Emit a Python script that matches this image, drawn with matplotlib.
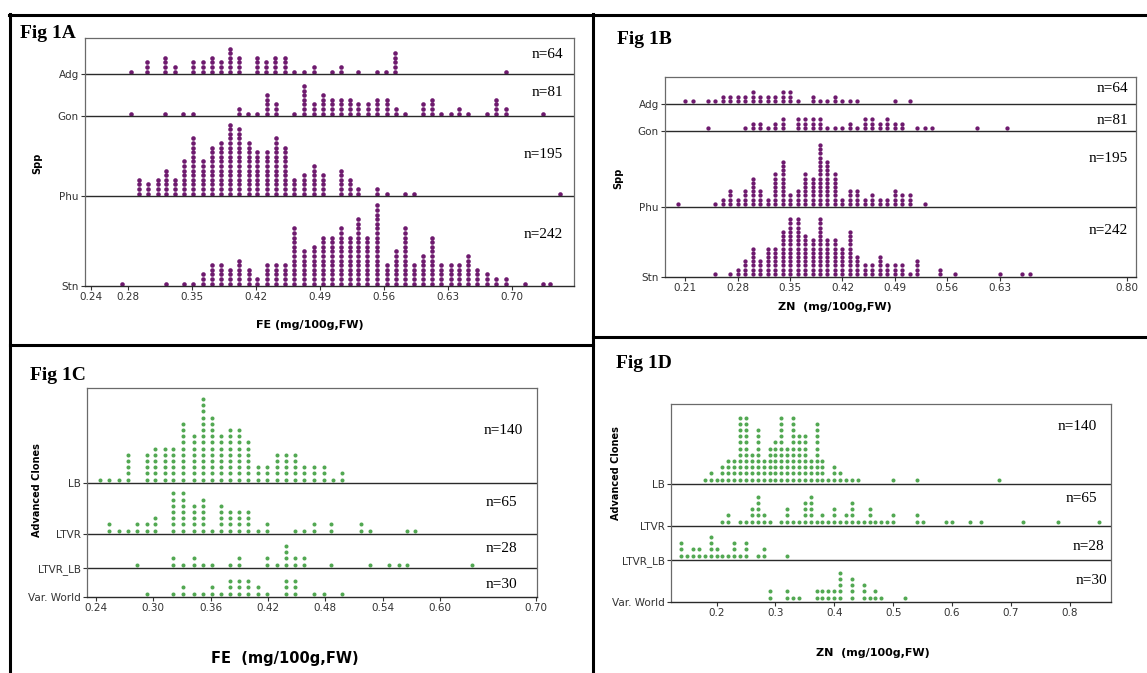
import numpy as np
import matplotlib.pyplot as plt

# ---- data: dot columns (bin position, number of dots) ----
# Fig 1A  FE by species
adg_fe_x = [0.283, 0.301, 0.320, 0.331, 0.351, 0.362, 0.372, 0.382, 0.392, 0.402, 0.421, 0.431,
            0.441, 0.452, 0.462, 0.473, 0.483, 0.503, 0.513, 0.532, 0.552, 0.562, 0.572, 0.694]
adg_fe_n = [1, 3, 4, 2, 3, 3, 4, 3, 6, 4, 4, 3, 4, 4, 1, 1, 2, 1, 2, 1, 1, 1, 5, 1]
gon_fe_x = [0.283, 0.320, 0.340, 0.351, 0.402, 0.411, 0.421, 0.432, 0.442, 0.462, 0.473, 0.483,
            0.493, 0.503, 0.513, 0.523, 0.532, 0.543, 0.552, 0.563, 0.573, 0.583, 0.603, 0.613,
            0.623, 0.633, 0.642, 0.652, 0.673, 0.683, 0.694, 0.734]
gon_fe_n = [1, 1, 1, 1, 2, 1, 1, 5, 3, 1, 7, 3, 5, 4, 4, 4, 3, 3, 4, 4, 2, 1, 3, 4, 1, 1, 2, 1, 1, 4, 2, 1]
phu_fe_x = [0.292, 0.302, 0.313, 0.322, 0.331, 0.341, 0.351, 0.362, 0.372, 0.382, 0.392, 0.402,
            0.412, 0.421, 0.432, 0.442, 0.452, 0.462, 0.473, 0.483, 0.493, 0.513, 0.523, 0.532,
            0.552, 0.563, 0.583, 0.593, 0.753]
phu_fe_n = [4, 3, 4, 6, 4, 8, 13, 8, 11, 12, 16, 15, 12, 10, 10, 13, 11, 4, 5, 7, 5, 6, 4, 2, 2, 1, 1, 1, 1]
stn_fe_x = [0.273, 0.322, 0.341, 0.351, 0.362, 0.372, 0.382, 0.392, 0.402, 0.412, 0.421, 0.432,
            0.442, 0.452, 0.462, 0.473, 0.483, 0.493, 0.503, 0.513, 0.523, 0.532, 0.542, 0.552,
            0.563, 0.573, 0.583, 0.593, 0.603, 0.613, 0.623, 0.633, 0.642, 0.652, 0.662, 0.673,
            0.683, 0.694, 0.714, 0.734, 0.742]
stn_fe_n = [1, 1, 1, 1, 3, 5, 5, 4, 6, 4, 2, 5, 5, 5, 13, 8, 9, 11, 11, 13, 11, 15, 11, 18, 5, 8,
            13, 5, 7, 11, 5, 5, 5, 7, 4, 3, 2, 2, 1, 1, 1]

# Fig 1B  ZN by species
adg_zn_x = [0.21, 0.22, 0.24, 0.25, 0.26, 0.27, 0.28, 0.29, 0.30, 0.31, 0.32, 0.33, 0.34, 0.35,
            0.36, 0.38, 0.39, 0.40, 0.41, 0.42, 0.43, 0.44, 0.49, 0.51]
adg_zn_n = [1, 1, 1, 1, 2, 2, 2, 2, 3, 2, 2, 2, 3, 3, 1, 2, 1, 1, 2, 1, 1, 1, 1, 1]
gon_zn_x = [0.24, 0.29, 0.30, 0.31, 0.32, 0.33, 0.34, 0.36, 0.37, 0.38, 0.39, 0.40, 0.41, 0.42,
            0.43, 0.44, 0.45, 0.46, 0.47, 0.48, 0.49, 0.50, 0.52, 0.53, 0.54, 0.60, 0.64]
gon_zn_n = [1, 1, 2, 2, 1, 2, 3, 3, 3, 3, 3, 1, 1, 1, 2, 1, 3, 3, 2, 3, 2, 2, 1, 1, 1, 1, 1]
phu_zn_x = [0.20, 0.25, 0.26, 0.27, 0.28, 0.29, 0.30, 0.31, 0.32, 0.33, 0.34, 0.35, 0.36, 0.37,
            0.38, 0.39, 0.40, 0.41, 0.42, 0.43, 0.44, 0.45, 0.46, 0.47, 0.48, 0.49, 0.50, 0.51, 0.53]
phu_zn_n = [1, 1, 2, 4, 2, 4, 7, 4, 2, 8, 11, 3, 4, 8, 7, 15, 11, 8, 2, 4, 4, 2, 3, 2, 2, 4, 3, 3, 1]
stn_zn_x = [0.25, 0.27, 0.28, 0.29, 0.30, 0.31, 0.32, 0.33, 0.34, 0.35, 0.36, 0.37, 0.38, 0.39,
            0.40, 0.41, 0.42, 0.43, 0.44, 0.45, 0.46, 0.47, 0.48, 0.49, 0.50, 0.51, 0.52, 0.55,
            0.57, 0.63, 0.66, 0.67]
stn_zn_n = [1, 1, 2, 4, 7, 4, 7, 7, 11, 14, 14, 10, 9, 14, 9, 9, 7, 11, 5, 3, 3, 5, 3, 3, 3, 1,
            4, 2, 1, 1, 1, 1]

# Fig 1C  FE by clone group
lb_fe_x = [0.244, 0.254, 0.264, 0.273, 0.293, 0.302, 0.312, 0.321, 0.331, 0.342, 0.352, 0.361,
           0.371, 0.380, 0.390, 0.399, 0.409, 0.419, 0.429, 0.439, 0.448, 0.458, 0.468, 0.478,
           0.488, 0.497]
lb_fe_n = [1, 1, 1, 5, 5, 6, 6, 6, 10, 8, 14, 11, 8, 9, 9, 7, 3, 3, 5, 5, 5, 3, 3, 3, 1, 2]
ltvr_fe_x = [0.254, 0.264, 0.273, 0.283, 0.293, 0.302, 0.321, 0.331, 0.342, 0.352, 0.361, 0.371,
             0.380, 0.390, 0.399, 0.409, 0.419, 0.448, 0.458, 0.468, 0.486, 0.517, 0.527, 0.565,
             0.574]
ltvr_fe_n = [2, 1, 1, 2, 2, 3, 7, 7, 5, 6, 1, 5, 4, 4, 4, 1, 2, 1, 1, 2, 2, 2, 1, 1, 1]
ltvrlb_fe_x = [0.283, 0.321, 0.331, 0.342, 0.352, 0.361, 0.380, 0.390, 0.419, 0.429, 0.439, 0.448,
               0.458, 0.486, 0.527, 0.547, 0.557, 0.565, 0.633]
ltvrlb_fe_n = [1, 2, 1, 2, 1, 1, 1, 2, 2, 1, 4, 2, 2, 1, 1, 1, 1, 1, 1]
vw_fe_x = [0.293, 0.321, 0.331, 0.342, 0.352, 0.361, 0.371, 0.380, 0.390, 0.399, 0.409, 0.419,
           0.439, 0.448, 0.468, 0.478, 0.497]
vw_fe_n = [1, 1, 2, 1, 1, 2, 1, 3, 3, 3, 2, 1, 3, 3, 1, 1, 1]

# Fig 1D  ZN by clone group
lb_zn_x = [0.18, 0.19, 0.20, 0.21, 0.22, 0.23, 0.24, 0.25, 0.26, 0.27, 0.28, 0.29, 0.30, 0.31,
           0.32, 0.33, 0.34, 0.35, 0.36, 0.37, 0.38, 0.39, 0.40, 0.41, 0.42, 0.43, 0.44, 0.50,
           0.54, 0.68]
lb_zn_n = [1, 2, 1, 3, 4, 4, 11, 11, 5, 9, 4, 6, 7, 11, 6, 11, 8, 8, 4, 10, 4, 1, 3, 2, 1, 1, 1,
           1, 1, 1]
ltvr_zn_x = [0.21, 0.22, 0.24, 0.25, 0.26, 0.27, 0.28, 0.29, 0.31, 0.32, 0.33, 0.34, 0.35, 0.36,
             0.37, 0.38, 0.39, 0.40, 0.41, 0.42, 0.43, 0.44, 0.45, 0.46, 0.47, 0.48, 0.49, 0.50,
             0.54, 0.55, 0.59, 0.60, 0.63, 0.65, 0.72, 0.78, 0.85]
ltvr_zn_n = [1, 2, 1, 1, 3, 5, 2, 1, 1, 3, 1, 1, 4, 5, 1, 2, 1, 3, 1, 2, 4, 1, 1, 3, 1, 1, 1, 2,
             2, 1, 1, 1, 1, 1, 1, 1, 1]
ltvrlb_zn_x = [0.14, 0.15, 0.16, 0.17, 0.18, 0.19, 0.20, 0.21, 0.22, 0.23, 0.24, 0.25, 0.27,
               0.28, 0.32]
ltvrlb_zn_n = [3, 1, 2, 2, 1, 4, 2, 1, 1, 3, 1, 3, 1, 2, 1]
vw_zn_x = [0.29, 0.32, 0.33, 0.34, 0.37, 0.38, 0.39, 0.40, 0.41, 0.43, 0.45, 0.46, 0.47, 0.48, 0.52]
vw_zn_n = [2, 2, 1, 1, 2, 2, 2, 2, 5, 4, 3, 1, 2, 1, 1]

species = ['Adg', 'Gon', 'Phu', 'Stn']
species_n = ['n=64', 'n=81', 'n=195', 'n=242']
clones = ['LB', 'LTVR', 'LTVR_LB', 'Var. World']
clones_n = ['n=140', 'n=65', 'n=28', 'n=30']

ticks_a = [0.24, 0.28, 0.35, 0.42, 0.49, 0.56, 0.63, 0.70]
ticks_b = [0.21, 0.28, 0.35, 0.42, 0.49, 0.56, 0.63, 0.80]
ticks_c = [0.24, 0.30, 0.36, 0.42, 0.48, 0.54, 0.60, 0.70]
ticks_d = [0.2, 0.3, 0.4, 0.5, 0.6, 0.7, 0.8]

PURPLE = '#6e1a6e'
GREEN = '#52a852'

W, H = 1147, 673
fig = plt.figure(figsize=(W / 100, H / 100), dpi=100)


def fx(x):
    return x / W


def fy(y):
    return 1 - y / H


def dot_panel(box, xlim, ticks, names, bases, groups, color, pitch, first, ms, tickfmt):
    l, t, r, b = box
    ax = fig.add_axes([fx(l), fy(b), (r - l) / W, (b - t) / H])
    ax.set_xlim(*xlim)
    ax.set_ylim(0, b - t)
    ys_base = [b - p for p in bases]
    for (xs, ns), yb in zip(groups, ys_base):
        for x, n in zip(xs, ns):
            ys = yb + first + pitch * np.arange(n)
            ax.plot([x] * n, ys, 'o', color=color, ms=ms, mew=0)
    for yb in ys_base[:-1]:
        ax.axhline(yb, color='#2a2a2a', lw=1.0)
    for s in ['top', 'left', 'right']:
        ax.spines[s].set_color('#6a6a6a')
        ax.spines[s].set_linewidth(0.9)
    ax.spines['bottom'].set_color('#2a2a2a')
    ax.spines['bottom'].set_linewidth(1.0)
    ax.set_xticks(ticks)
    ax.set_xticklabels([tickfmt % v for v in ticks])
    ax.set_yticks(ys_base)
    ax.set_yticklabels(names)
    ax.tick_params(axis='both', direction='out', length=3, width=0.8,
                   color='#333333', labelcolor='#333333', labelsize=7.5, pad=1.5)
    return ax


def panel_text(x, y, s, **kw):
    fig.text(fx(x), fy(y), s, **kw)


# panel A
dot_panel((85, 38, 574, 286), (0.233, 0.768), ticks_a, species,
          [74, 116, 196, 286],
          [(adg_fe_x, adg_fe_n), (gon_fe_x, gon_fe_n), (phu_fe_x, phu_fe_n), (stn_fe_x, stn_fe_n)],
          PURPLE, 4.6, 2.4, 3.3, '%.2f')
# panel B
dot_panel((665, 77, 1136, 277), (0.183, 0.812), ticks_b, species,
          [104, 131, 207, 277],
          [(adg_zn_x, adg_zn_n), (gon_zn_x, gon_zn_n), (phu_zn_x, phu_zn_n), (stn_zn_x, stn_zn_n)],
          PURPLE, 4.2, 3.3, 3.1, '%.2f')
# panel C
dot_panel((87, 388, 537, 597), (0.2306, 0.7013), ticks_c, clones,
          [483, 534, 568, 597],
          [(lb_fe_x, lb_fe_n), (ltvr_fe_x, ltvr_fe_n), (ltvrlb_fe_x, ltvrlb_fe_n), (vw_fe_x, vw_fe_n)],
          GREEN, 6.2, 3.5, 2.9, '%.2f')
# panel D
dot_panel((671, 404, 1111, 602), (0.1227, 0.870), ticks_d, clones,
          [484, 526, 560, 602],
          [(lb_zn_x, lb_zn_n), (ltvr_zn_x, ltvr_zn_n), (ltvrlb_zn_x, ltvrlb_zn_n), (vw_zn_x, vw_zn_n)],
          GREEN, 6.2, 4.5, 2.9, '%.1f')

serif = 'Liberation Serif'
# panel titles
for x, y, s in [(20, 33, 'Fig 1A'), (617, 40, 'Fig 1B'), (30, 375, 'Fig 1C'), (616, 363, 'Fig 1D')]:
    panel_text(x, y, s, family=serif, weight='bold', fontsize=14, va='center', ha='left')

# n= labels
for lab, y in zip(species_n, [55, 93, 155, 235]):
    panel_text(563, y, lab, family=serif, fontsize=11, ha='right', va='center')
for lab, y in zip(species_n, [88, 120, 158, 230]):
    panel_text(1128, y, lab, family=serif, fontsize=11, ha='right', va='center')
for lab, y, x in zip(clones_n, [430, 503, 549, 584], [523, 517, 517, 517]):
    panel_text(x, y, lab, family=serif, fontsize=11, ha='right', va='center')
for lab, y, x in zip(clones_n, [427, 498, 547, 580], [1097, 1097, 1104, 1107]):
    panel_text(x, y, lab, family=serif, fontsize=11, ha='right', va='center')

# axis titles
panel_text(310, 325, 'FE (mg/100g,FW)', weight='bold', fontsize=8, ha='center', va='center')
panel_text(835, 307, 'ZN  (mg/100g,FW)', weight='bold', fontsize=8, ha='center', va='center')
panel_text(285, 658, 'FE  (mg/100g,FW)', weight='bold', fontsize=10.5, ha='center', va='center')
panel_text(873, 653, 'ZN  (mg/100g,FW)', weight='bold', fontsize=8, ha='center', va='center')
panel_text(37, 163, 'Spp', weight='bold', fontsize=7, rotation=90, ha='center', va='center')
panel_text(618, 178, 'Spp', weight='bold', fontsize=7, rotation=90, ha='center', va='center')
panel_text(37, 490, 'Advanced Clones', weight='bold', fontsize=7, rotation=90, ha='center', va='center')
panel_text(616, 473, 'Advanced Clones', weight='bold', fontsize=7, rotation=90, ha='center', va='center')

# thick panel borders
bw = 2.2
for (x0, y0, x1, y1) in [(9, 14.5, W, 14.5), (10, 14, 10, H), (593, 14, 593, H),
                         (10, 344.5, 593, 344.5), (593, 337, W, 337)]:
    fig.add_artist(plt.Line2D([fx(x0), fx(x1)], [fy(y0), fy(y1)], color='black', lw=bw))

fig.savefig('out.png', dpi=100)
